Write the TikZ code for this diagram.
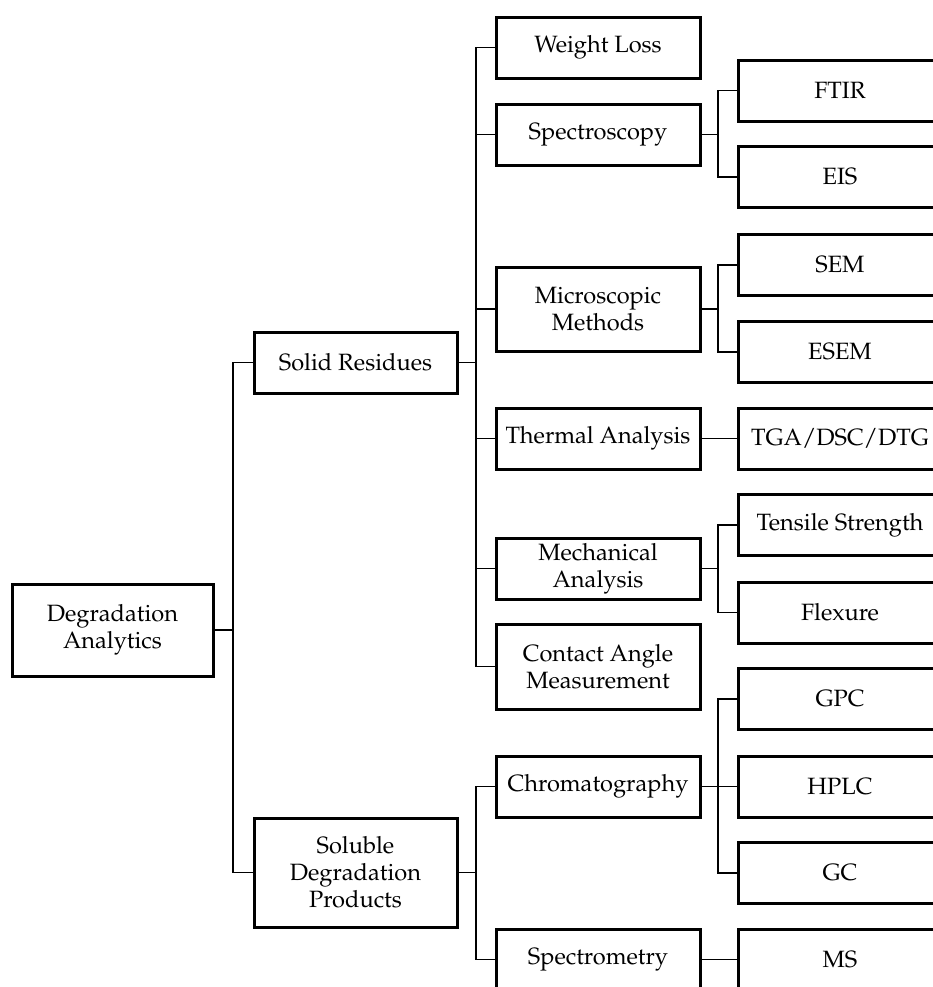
\documentclass[tikz,border=0pt]{standalone}
\usepackage[T1]{fontenc}
\usepackage{mathpazo}
\usepackage{tikz}
\usetikzlibrary{positioning}

\begin{document}
\begin{tikzpicture}[x=0.5pt,y=-0.5pt,
	box/.style={draw,line width=1.5pt,rectangle,align=center,inner sep=2pt,minimum width=102pt,minimum height=30.5pt,font=\fontsize{11.8}{13.5}\selectfont},
	link/.style={line width=0.8pt}]
	\fill[white] (0,0) rectangle (933,987);
	\useasboundingbox (0,0) rectangle (933,987);
	\clip (0,0) rectangle (933,987);

	\coordinate (c1) at (233,0);
	\coordinate (c2) at (476,0);
	\coordinate (c3) at (718,0);

	\node (root) at (112.5,630) [box,minimum width=100.5pt,minimum height=46pt] {Degradation\\Analytics};
	\node (solid) at (355.5,362.5) [box,minimum width=101.5pt] {Solid Residues};
	\node (soluble) at (355.5,872.5) [box,minimum width=101.5pt,minimum height=54.5pt] {Soluble\\Degradation\\Products};

	% solid residues
	\node (weight) at (598,47.5) [box] {Weight Loss};
	\node (spectro) at (598,134.5) [box] {Spectroscopy};
	\node (micro) at (598,309) [box,minimum height=42pt] {Microscopic\\Methods};
	\node (thermal) at (598,438.5) [box] {Thermal Analysis};
	\node (mech) at (598,568.5) [box] {Mechanical\\Analysis};
	\node (contact) at (598,666.5) [box,minimum height=42.5pt] {Contact Angle\\Measurement};

	\node (ftir) at (840,90.5) [box] {FTIR};
	\node (eis) at (840,177) [box] {EIS};
	\node (sem) at (840,265) [box] {SEM};
	\node (esem) at (840,352) [box] {ESEM};
	\node (tga) at (840,438.5) [box] {TGA/DSC/DTG};
	\node (tensile) at (840,525) [box] {Tensile Strength};
	\node (flexure) at (840,612.5) [box] {Flexure};

	% soluble products
	\node (chrom) at (598,786.5) [box] {Chromatography};
	\node (spectrom) at (598,959.5) [box] {Spectrometry};

	\node (gpc) at (840,699) [box] {GPC};
	\node (hplc) at (840,786.5) [box] {HPLC};
	\node (gc) at (840,873) [box] {GC};
	\node (ms) at (840,959.5) [box] {MS};

	\draw[link] (root.east) -- (root.east -| c1);
	\draw[link] (solid.west) -- (solid.west -| c1) -- (soluble.west -| c1) -- (soluble.west);

	\draw[link] (solid.east) -- (solid.east -| c2);
	\draw[link] (weight.west) -- (weight.west -| c2) -- (contact.west -| c2) -- (contact.west);
	\foreach \n in {spectro,micro,thermal,mech}
		\draw[link] (\n.west) -- (\n.west -| c2);

	\draw[link] (soluble.east) -- (soluble.east -| c2);
	\draw[link] (chrom.west) -- (chrom.west -| c2) -- (spectrom.west -| c2) -- (spectrom.west);

	\draw[link] (spectro.east) -- (spectro.east -| c3);
	\draw[link] (ftir.west) -- (ftir.west -| c3) -- (eis.west -| c3) -- (eis.west);
	\draw[link] (micro.east) -- (micro.east -| c3);
	\draw[link] (sem.west) -- (sem.west -| c3) -- (esem.west -| c3) -- (esem.west);
	\draw[link] (thermal.east) -- (tga.west);
	\draw[link] (mech.east) -- (mech.east -| c3);
	\draw[link] (tensile.west) -- (tensile.west -| c3) -- (flexure.west -| c3) -- (flexure.west);
	\draw[link] (chrom.east) -- (hplc.west);
	\draw[link] (gpc.west) -- (gpc.west -| c3) -- (gc.west -| c3) -- (gc.west);
	\draw[link] (spectrom.east) -- (ms.west);
\end{tikzpicture}
\end{document}
